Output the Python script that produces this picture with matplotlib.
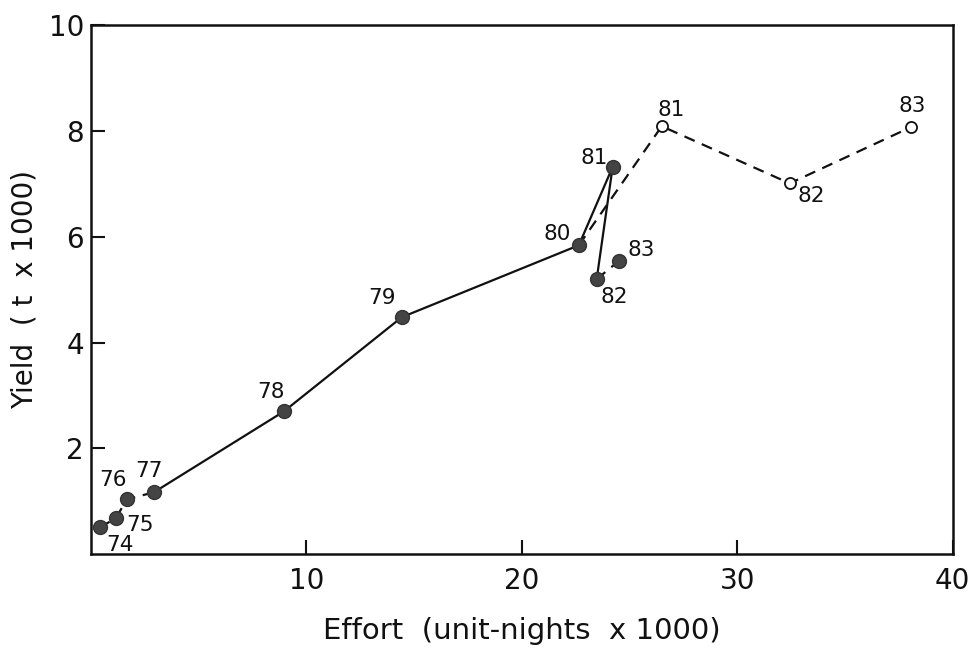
import matplotlib.pyplot as plt

# effort (unit-nights x 1000) and yield (t x 1000) by year
years = ["74", "75", "76", "77", "78", "79", "80", "81", "82", "83"]
effort = [0.42, 1.16, 1.67, 2.92, 8.96, 14.43, 22.65, 24.22, 23.48, 24.50]
yield_t = [0.51, 0.68, 1.04, 1.17, 2.70, 4.48, 5.84, 7.32, 5.20, 5.54]

# alternative estimates for 81-83 (open circles)
alt_years = ["81", "82", "83"]
alt_effort = [26.50, 32.44, 38.05]
alt_yield = [8.09, 7.01, 8.07]

# label offsets in pixels
offsets = [(20, -18), (24, -7), (-14, 19), (-5, 21), (-13, 19),
           (-20, 19), (-22, 11), (-18, 9), (18, -18), (23, 11)]
alt_offsets = [(9, 16), (22, -13), (2, 21)]

plt.rcParams['font.family'] = ['DejaVu Sans']
fig = plt.figure(figsize=(9.77, 6.63), dpi=100)
ax = fig.add_axes([0.093, 0.164, 0.882, 0.798])

dash = (0, (5, 3.5))
lw = 1.6
# 74-77 dashed, 77-82 solid, 82-83 dashed
ax.plot(effort[0:4], yield_t[0:4], color='#111', lw=lw, linestyle=dash, zorder=1)
ax.plot(effort[3:9], yield_t[3:9], color='#111', lw=lw, zorder=1)
ax.plot(effort[8:10], yield_t[8:10], color='#111', lw=lw, linestyle=dash, zorder=1)
# 80 to the open series
ax.plot([effort[6]] + alt_effort, [yield_t[6]] + alt_yield, color='#111', lw=lw,
        linestyle=dash, zorder=1)

ax.plot(effort, yield_t, 'o', ms=10, color='#444', mec='#333', zorder=3)
ax.plot(alt_effort, alt_yield, 'o', ms=8, mfc='white', mec='#111', mew=1.3, zorder=3)

for yr, x, y, off in zip(years, effort, yield_t, offsets):
    ax.annotate(yr, (x, y), xytext=off, textcoords='offset pixels',
                ha='center', va='center', fontsize=15.5, color='#111')
for yr, x, y, off in zip(alt_years, alt_effort, alt_yield, alt_offsets):
    ax.annotate(yr, (x, y), xytext=off, textcoords='offset pixels',
                ha='center', va='center', fontsize=15.5, color='#111')

ax.set_xlim(0, 40)
ax.set_ylim(0, 10)
ax.set_xticks([10, 20, 30, 40])
ax.set_yticks([2, 4, 6, 8, 10])
ax.tick_params(direction='in', length=10, width=1.5, labelsize=20, colors='#111')
ax.tick_params(axis='y', pad=5)
ax.tick_params(axis='x', pad=9)
for s in ax.spines.values():
    s.set_linewidth(1.8)
    s.set_color('#111')

ax.set_xlabel("Effort  (unit-nights  x 1000)", fontsize=21, labelpad=16, color='#111')
ax.set_ylabel("Yield  ( t  x 1000)", fontsize=20, color='#111', va='center')
ax.yaxis.set_label_coords(-0.077, 0.5)

fig.savefig("out.png", dpi=100)
